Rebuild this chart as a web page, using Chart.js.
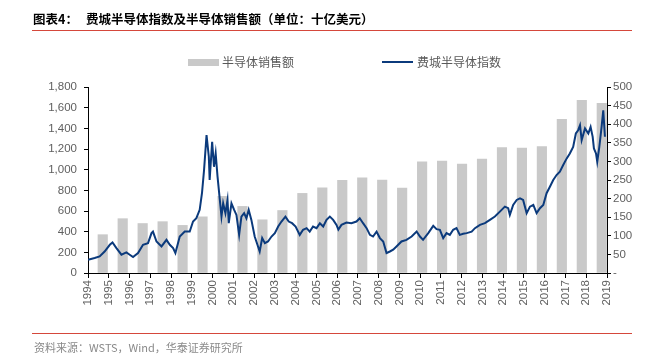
<!DOCTYPE html>
<html>
<head>
<meta charset="utf-8">
<script src="https://cdn.jsdelivr.net/npm/chart.js@4.4.1/dist/chart.umd.min.js"></script>
<style>
  body { margin: 0; background: #fff; }
  #wrap { position: relative; width: 665px; height: 362px; overflow: hidden; font-family: "Noto Sans CJK SC", sans-serif; }
  #chart { position: absolute; left: 0; top: 0; }
  .title { position: absolute; top: 10px; font-size: 12.5px; font-weight: bold; color: #000; line-height: 18px; white-space: nowrap; }
  .rule { position: absolute; left: 32px; width: 600px; height: 1px; background: #d5483b; }
  .lg-text { position: absolute; top: 54px; font-size: 12px; color: #595959; line-height: 16px; white-space: nowrap; }
  .source { position: absolute; left: 34px; top: 340px; font-size: 11px; color: #8a8a8a; line-height: 15px; white-space: nowrap; }
</style>
</head>
<body>
<div id="wrap">
  <canvas id="chart" width="665" height="362"></canvas>
  <div class="title" style="left:33px">图表4：</div>
  <div class="title" style="left:86px">费城半导体指数及半导体销售额（单位：十亿美元）</div>
  <div class="rule" style="top:30px"></div>

  <div style="position:absolute;left:188px;top:59px;width:31px;height:7px;background:#c9c9c9"></div>
  <div class="lg-text" style="left:222px">半导体销售额</div>
  <div style="position:absolute;left:382px;top:61px;width:31px;height:2px;background:#0b3a7c"></div>
  <div class="lg-text" style="left:417px">费城半导体指数</div>

  <div class="rule" style="top:333px"></div>
  <div class="source">资料来源：WSTS，Wind，华泰证券研究所</div>
</div>

<script>
// annual semiconductor sales (bn USD, right axis)
const barYears = ['1994','1995','1996','1997','1998','1999','2000','2001','2002','2003','2004','2005','2006',
  '2007','2008','2009','2010','2011','2012','2013','2014','2015','2016','2017','2018','2019'];
const salesValues = [103, 146, 133, 138, 128, 151, 206, 179, 143, 168, 214, 229, 249,
  256, 250, 228, 299, 301, 293, 306, 337, 336, 340, 413, 464, 456];

// SOX index (left axis), dates as decimal years
const soxDates = [1994.00, 1994.32, 1994.56, 1994.80, 1995.05, 1995.18, 1995.37, 1995.61, 1995.85,
  1996.01, 1996.17, 1996.41, 1996.65, 1996.89, 1997.06, 1997.13, 1997.30, 1997.54, 1997.78, 1997.94,
  1998.10, 1998.21, 1998.42, 1998.66, 1998.90, 1999.06, 1999.22, 1999.38, 1999.49, 1999.59, 1999.71,
  1999.82, 1999.86, 1999.98, 2000.07, 2000.15, 2000.24, 2000.35, 2000.43, 2000.51, 2000.62, 2000.72,
  2000.78, 2000.91, 2001.04, 2001.15, 2001.28, 2001.39, 2001.52, 2001.63, 2001.74, 2001.87, 2002.03,
  2002.19, 2002.27, 2002.39, 2002.52, 2002.67, 2002.84, 2003.00, 2003.16, 2003.32, 2003.51, 2003.67,
  2003.83, 2004.00, 2004.20, 2004.36, 2004.53, 2004.68, 2004.84, 2005.01, 2005.17, 2005.33, 2005.49,
  2005.65, 2005.81, 2005.97, 2006.06, 2006.21, 2006.45, 2006.69, 2006.93, 2007.09, 2007.25, 2007.42,
  2007.58, 2007.73, 2007.90, 2008.06, 2008.22, 2008.38, 2008.54, 2008.70, 2008.86, 2009.10, 2009.34,
  2009.59, 2009.83, 2009.99, 2010.14, 2010.39, 2010.63, 2010.79, 2010.95, 2011.11, 2011.27, 2011.43,
  2011.59, 2011.75, 2011.91, 2012.07, 2012.24, 2012.48, 2012.64, 2012.88, 2013.12, 2013.36, 2013.60,
  2013.84, 2014.08, 2014.24, 2014.32, 2014.48, 2014.65, 2014.81, 2014.96, 2015.13, 2015.29, 2015.45,
  2015.61, 2015.77, 2015.93, 2016.09, 2016.25, 2016.41, 2016.57, 2016.73, 2016.89, 2017.06, 2017.21,
  2017.37, 2017.50, 2017.61, 2017.70, 2017.78, 2017.94, 2018.10, 2018.21, 2018.31, 2018.37, 2018.47,
  2018.53, 2018.63, 2018.74, 2018.82, 2018.90];
const soxValues = [128, 145, 160, 208, 273, 295, 241, 177, 199,
  177, 154, 193, 273, 289, 386, 401, 305, 257, 321, 273,
  241, 193, 353, 401, 401, 498, 530, 611, 772, 996, 1334,
  1125, 900, 1270, 1028, 1157, 932, 707, 546, 675, 579, 707,
  482, 675, 611, 562, 369, 546, 579, 530, 611, 514, 353,
  257, 208, 338, 289, 305, 353, 386, 450, 498, 546, 498,
  482, 450, 369, 418, 434, 401, 450, 434, 482, 450, 514,
  546, 514, 466, 420, 466, 488, 482, 498, 530, 482, 434,
  369, 353, 401, 338, 305, 193, 208, 225, 257, 305, 321,
  353, 401, 353, 321, 386, 456, 424, 418, 338, 386, 369,
  418, 434, 369, 379, 386, 400, 434, 466, 482, 514, 546,
  594, 642, 627, 562, 659, 707, 723, 707, 579, 642, 659,
  579, 627, 659, 772, 835, 900, 948, 980, 1045, 1109, 1157,
  1221, 1350, 1382, 1430, 1286, 1399, 1350, 1414, 1318, 1206, 1157,
  1077, 1221, 1414, 1575, 1318];

const leftTicks = { min: 0, max: 1800, step: 200 };
const rightTicks = { min: 0, max: 500, step: 50 };
const xRange = { min: 1994, max: 2019 };

const tickFont = { family: 'Liberation Sans, Arial, sans-serif', size: 11.5 };
const tickColor = '#606060';

const ctx = document.getElementById('chart');

new Chart(ctx, {
  type: 'bar',
  data: {
    labels: barYears,
    datasets: [{
      type: 'line',
      label: '费城半导体指数',
      data: soxDates.map((d, i) => ({ x: d, y: soxValues[i] })),
      xAxisID: 'x',
      yAxisID: 'y',
      borderColor: '#0b3a7c',
      borderWidth: 2,
      pointRadius: 0,
      tension: 0,
      order: 0
    }, {
      type: 'bar',
      label: '半导体销售额',
      data: salesValues,
      xAxisID: 'xb',
      yAxisID: 'y1',
      backgroundColor: '#c9c9c9',
      barThickness: 9.5,
      order: 1
    }]
  },
  options: {
    responsive: false,
    animation: false,
    devicePixelRatio: 1,
    layout: { padding: { top: 87, left: 0, right: 0, bottom: 0 } },
    plugins: {
      legend: { display: false },
      tooltip: { enabled: false }
    },
    scales: {
      xb: {
        type: 'category',
        display: false,
        offset: true
      },
      x: {
        type: 'linear',
        position: 'bottom',
        min: xRange.min,
        max: xRange.max,
        offset: false,
        grid: { drawOnChartArea: false, offset: false, color: '#000', tickLength: 5 },
        border: { color: '#000' },
        ticks: {
          stepSize: 1,
          autoSkip: false,
          minRotation: 90,
          maxRotation: 90,
          padding: 2,
          color: tickColor,
          font: tickFont,
          callback: v => String(v)
        },
        afterFit: s => { s.height = 362 - 273; }
      },
      y: {
        position: 'left',
        min: leftTicks.min,
        max: leftTicks.max,
        grid: { drawOnChartArea: false, color: '#000', tickLength: 4 },
        border: { color: '#000' },
        ticks: { stepSize: leftTicks.step, padding: 7, color: tickColor, font: tickFont },
        afterFit: s => { s.width = 88; }
      },
      y1: {
        position: 'right',
        min: rightTicks.min,
        max: rightTicks.max,
        grid: { drawOnChartArea: false, color: '#000', tickLength: 4 },
        border: { color: '#000' },
        ticks: {
          stepSize: rightTicks.step,
          padding: 2,
          color: tickColor,
          font: tickFont,
          callback: v => v === 0 ? '-' : v
        },
        afterFit: s => { s.width = 665 - 607; }
      }
    }
  }
});
</script>
</body>
</html>
